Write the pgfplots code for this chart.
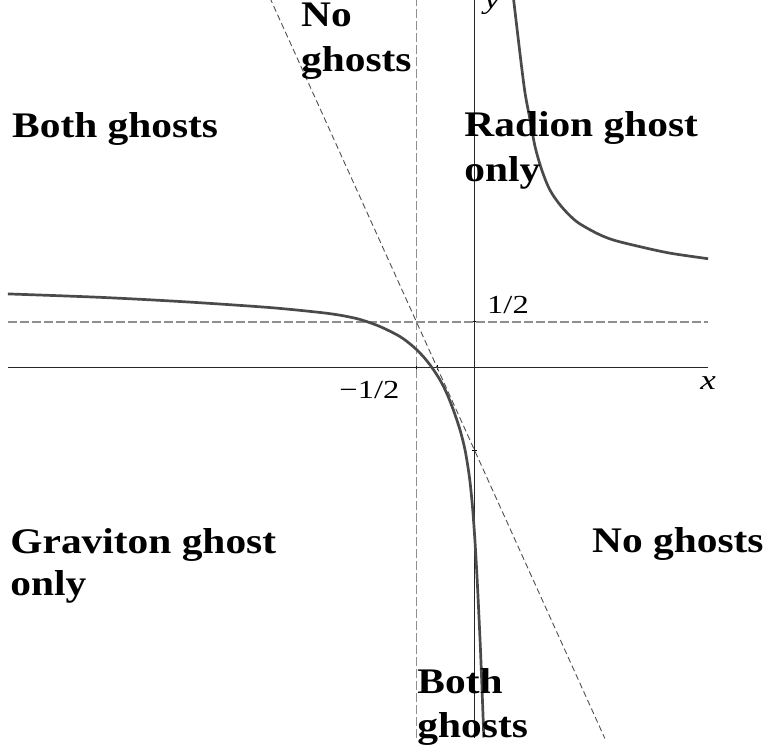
\documentclass[border=0pt]{standalone}
\usepackage{pgfplots}
\pgfplotsset{compat=1.18}
\usepackage{fontspec}
\setmainfont{Liberation Serif}
\newfontfamily\lblfont[FakeStretch=1.15]{Liberation Serif}
\newfontfamily\tickfont[FakeStretch=1.25]{Liberation Serif}
\newcommand\lbl[1]{{\lblfont\bfseries\fontsize{18}{22}\selectfont #1}}
\definecolor{curvegray}{HTML}{4A4A4A}
\definecolor{dashgray}{HTML}{8E8E8E}
\definecolor{diaggray}{HTML}{505050}

\begin{document}
\begin{tikzpicture}
  \begin{axis}[
      x=58.35pt, y=46.3pt,
      xmin=-4, xmax=2, ymin=-4, ymax=4,
      axis lines=middle,
      axis line style={-, black!85, line width=0.5pt},
      enlargelimits=false, clip=false,
      xtick={-0.5,-0.3205}, xticklabels={−1/2,{}},
      ytick={-0.893,0.5}, yticklabels={{},1/2},
      tick align=center, major tick length=2.5pt,
      tick style={black, line width=0.6pt},
      xticklabel style={font=\tickfont\fontsize{13}{13}\selectfont,
        anchor=base east, inner sep=0pt, xshift=-8.35pt, yshift=-14pt},
      yticklabel style={font=\tickfont\fontsize{13}{13}\selectfont,
        anchor=base west, inner sep=0pt, xshift=7.3pt, yshift=4.2pt},
    ]

    % reference lines
    \addplot[dashgray, line width=0.85pt, dash pattern=on 4.5pt off 1.5pt]
      coordinates {(-4,0.5) (2,0.5)};
    \addplot[dashgray, line width=0.85pt, dash pattern=on 4.5pt off 1.5pt]
      coordinates {(-0.5,-4) (-0.5,4)};
    \addplot[diaggray, line width=0.45pt, dash pattern=on 3pt off 1.7pt]
      coordinates {(-1.756,4) (1.115,-4)};

    % upper right branch
    \addplot[curvegray, line width=1.35pt, smooth] coordinates {
      (0.331,4.00) (0.394,3.33) (0.431,2.97) (0.474,2.68) (0.517,2.39)
      (0.574,2.14) (0.645,1.92) (0.745,1.74) (0.874,1.58) (1.045,1.455)
      (1.188,1.382) (1.416,1.31) (1.674,1.24) (2.000,1.18)};

    % left / lower branch
    \addplot[curvegray, line width=1.35pt, smooth] coordinates {
      (-4.00,0.800) (-3.21,0.763) (-2.50,0.716) (-1.78,0.655) (-1.35,0.603)
      (-1.154,0.570) (-0.983,0.524) (-0.811,0.447) (-0.640,0.339)
      (-0.526,0.230) (-0.440,0.122) (-0.368,0.007) (-0.297,-0.130)
      (-0.240,-0.273) (-0.183,-0.454) (-0.126,-0.670) (-0.083,-0.886)
      (-0.046,-1.174) (-0.021,-1.474) (0.000,-1.831) (0.022,-2.315)
      (0.051,-3.098) (0.078,-3.99)};

    % axis labels
    \node[anchor=base, inner sep=0pt, yshift=-11pt] at (axis cs:2,0)
      {\tickfont\fontsize{14}{14}\selectfont\itshape x};
    \node[anchor=base west, inner sep=0pt, xshift=4.6pt, yshift=-5.5pt] at (axis cs:0,4)
      {\tickfont\fontsize{14}{14}\selectfont\itshape y};

    % region labels
    \node[anchor=base west, inner sep=0pt] at (axis cs:-3.967,2.489) {\lbl{Both ghosts}};
    \node[anchor=base west, inner sep=0pt] at (axis cs:-1.491,3.693) {\lbl{No}};
    \node[anchor=base west, inner sep=0pt] at (axis cs:-1.491,3.200) {\lbl{ghosts}};
    \node[anchor=base west, inner sep=0pt] at (axis cs:-0.092,2.498) {\lbl{Radion ghost}};
    \node[anchor=base west, inner sep=0pt] at (axis cs:-0.092,2.012) {\lbl{only}};
    \node[anchor=base west, inner sep=0pt] at (axis cs:-3.982,-2.001) {\lbl{Graviton ghost}};
    \node[anchor=base west, inner sep=0pt] at (axis cs:-3.982,-2.462) {\lbl{only}};
    \node[anchor=base west, inner sep=0pt] at (axis cs:1.003,-1.995) {\lbl{No ghosts}};
    \node[anchor=base west, inner sep=0pt] at (axis cs:-0.494,-3.510) {\lbl{Both}};
    \node[anchor=base west, inner sep=0pt] at (axis cs:-0.494,-3.985) {\lbl{ghosts}};

    \coordinate (bbsw) at (axis cs:-4.068,-4.125);
    \coordinate (bbne) at (axis cs:2.513,3.974);
  \end{axis}
  \pgfresetboundingbox
  \path[use as bounding box] (bbsw) rectangle (bbne);
\end{tikzpicture}
\end{document}
